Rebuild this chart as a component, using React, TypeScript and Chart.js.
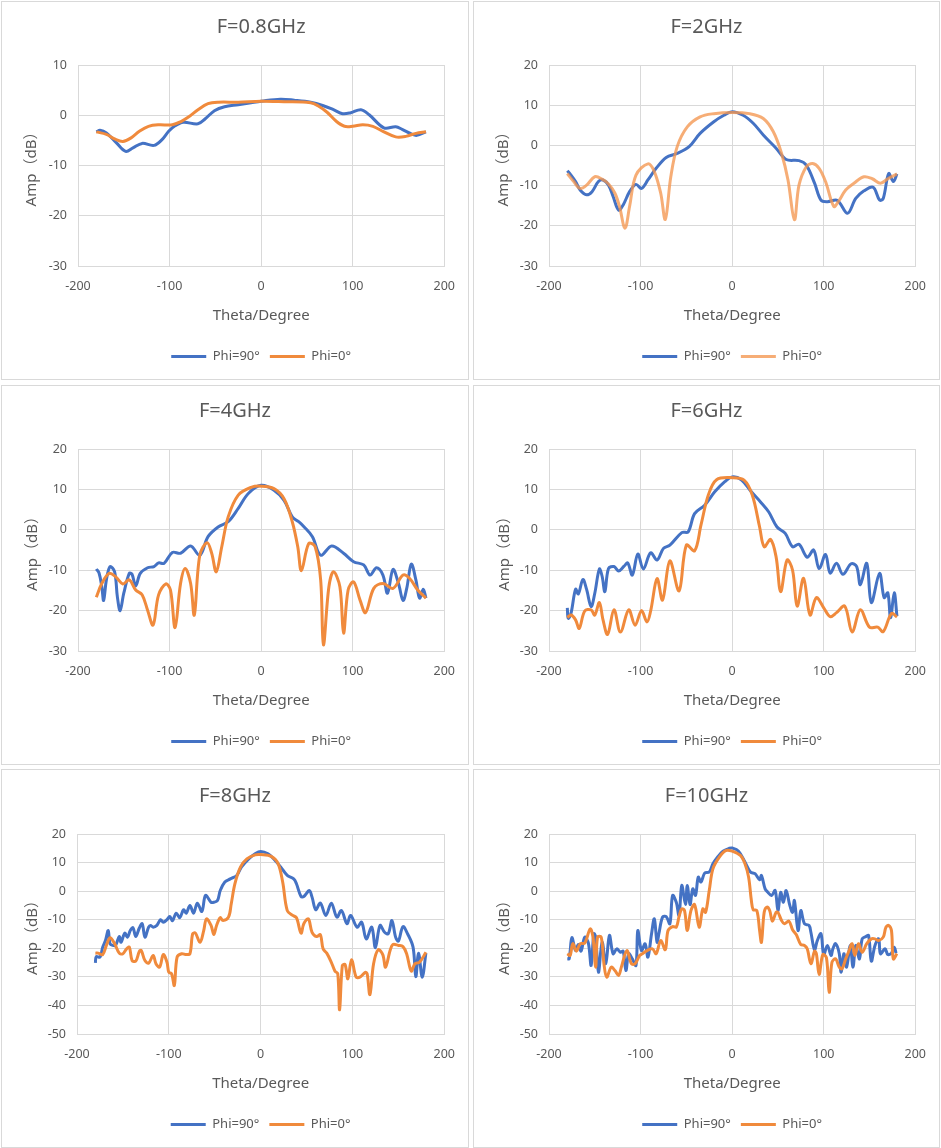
import React, { useEffect, useRef } from "react";
import { Chart, registerables } from "chart.js";

Chart.register(...registerables);

// ---------- text ----------
const TITLES = ["F=0.8GHz", "F=2GHz", "F=4GHz", "F=6GHz", "F=8GHz", "F=10GHz"];
const SERIES_LABELS = ["Phi=90°", "Phi=0°"];
const X_TITLE = "Theta/Degree";
const Y_TITLE = "Amp（dB）";

// ---------- axes ----------
const X_MIN = -200;
const X_MAX = 200;
const X_STEP = 100;
const Y_MIN = [-30, -30, -30, -30, -50, -50];
const Y_MAX = [10, 20, 20, 20, 20, 20];
const Y_STEP = 10;

// ---------- data: F = 0.8 GHz ----------
const P1_BLUE_THETA = [-180, -176, -169, -158, -148, -140, -130, -117, -108, -101, -94, -85, -69, -61, -51, -40, -25, -11, 0, 21, 36, 54, 68, 79, 89, 98, 109, 118, 134, 147, 154, 165, 170, 180];
const P1_BLUE_AMP = [-3.3, -3.0, -3.5, -5.5, -7.2, -6.5, -5.6, -6.0, -4.8, -3.2, -2.1, -1.4, -1.7, -0.7, 0.9, 1.7, 2.1, 2.5, 2.8, 3.2, 3.0, 2.6, 1.9, 1.1, 0.3, 0.5, 1.1, 0.1, -2.5, -2.3, -2.8, -3.8, -4.0, -3.3];
const P1_ORANGE_THETA = [-180, -169, -160, -151, -142, -133, -123, -112, -97, -88, -79, -69, -58, -47, -25, 0, 25, 54, 62, 72, 82, 91, 100, 111, 122, 133, 147, 158, 169, 180];
const P1_ORANGE_AMP = [-3.3, -3.8, -4.7, -5.2, -4.5, -3.2, -2.2, -1.9, -1.9, -1.3, -0.3, 1.1, 2.3, 2.6, 2.6, 2.8, 2.7, 2.5, 1.9, 0.6, -1.2, -2.2, -2.2, -1.9, -2.2, -3.2, -4.3, -4.2, -3.6, -3.3];

// ---------- data: F = 2 GHz ----------
const P2_BLUE_THETA = [-180, -177, -171, -166, -159, -153, -146, -141, -135, -130, -124, -119, -112, -105, -99, -92, -83, -72, -60, -47, -35, -20, -9, 0, 12, 23, 34, 48, 59, 73, 81, 90, 97, 104, 115, 126, 135, 144, 154, 161, 165, 171, 176, 180];
const P2_BLUE_AMP = [-6.3, -7.1, -9.0, -11.1, -12.3, -11.5, -9.0, -8.6, -9.9, -12.7, -16.1, -14.8, -11.5, -9.7, -10.7, -8.6, -5.7, -3.0, -2.0, -0.3, 3.0, 5.9, 7.5, 8.4, 7.5, 5.5, 2.6, -0.7, -3.5, -3.8, -4.9, -9.4, -13.6, -14.0, -13.7, -16.9, -13.2, -11.3, -10.4, -13.6, -13.2, -7.0, -9.0, -7.1];
const P2_ORANGE_THETA = [-180, -173, -166, -159, -150, -142, -135, -128, -123, -117, -112, -105, -92, -85, -78, -73, -67, -60, -49, -35, -20, 0, 19, 34, 45, 54, 61, 68, 73, 81, 88, 95, 102, 111, 116, 124, 133, 144, 153, 162, 170, 180];
const P2_ORANGE_AMP = [-7.0, -9.0, -10.7, -9.9, -7.8, -8.4, -9.6, -11.9, -15.2, -20.6, -15.2, -7.4, -4.6, -6.5, -11.9, -18.4, -7.8, -0.3, 4.6, 7.1, 7.9, 8.2, 7.9, 6.7, 3.4, -2.0, -8.6, -18.5, -9.9, -5.3, -4.5, -5.7, -9.0, -15.2, -14.0, -11.1, -9.4, -7.8, -8.3, -9.4, -8.3, -7.1];

// ---------- data: F = 4 GHz ----------
const P3_BLUE_THETA = [-180, -177, -174, -172, -169, -165, -160, -157, -154, -150, -144, -141, -137, -132, -124, -117, -112, -106, -97, -88, -77, -67, -58, -47, -36, -25, -14, 0, 14, 25, 34, 41, 47, 56, 65, 77, 90, 101, 112, 119, 126, 133, 138, 144, 150, 155, 159, 164, 169, 173, 177, 180];
const P3_BLUE_AMP = [-9.7, -10.7, -14.1, -17.5, -12.4, -9.1, -10.4, -16.6, -20.0, -15.7, -10.8, -11.0, -13.9, -10.8, -9.4, -9.1, -8.2, -8.3, -5.6, -5.8, -4.0, -6.3, -1.7, 0.7, 2.0, 5.3, 9.0, 11.0, 9.8, 7.3, 3.2, 2.0, 0.7, -1.7, -6.3, -4.0, -5.8, -7.9, -8.7, -11.2, -9.4, -11.2, -15.7, -9.8, -13.3, -17.5, -14.5, -8.5, -12.4, -16.9, -14.7, -16.9];
const P3_ORANGE_THETA = [-180, -174, -166, -159, -151, -144, -137, -130, -124, -118, -112, -104, -99, -94, -88, -83, -77, -73, -67, -59, -54, -49, -43, -36, -25, -11, 0, 14, 25, 34, 40, 44, 52, 59, 65, 68, 74, 79, 86, 90, 95, 101, 108, 114, 123, 133, 144, 155, 162, 171, 180];
const P3_ORANGE_AMP = [-16.7, -13.3, -10.8, -11.6, -13.4, -12.4, -14.9, -16.1, -19.9, -23.6, -16.1, -13.4, -14.9, -24.2, -13.3, -9.6, -13.3, -21.1, -6.3, -3.2, -5.8, -10.4, -4.2, 3.2, 8.6, 10.5, 10.8, 10.2, 7.7, 2.0, -4.2, -10.1, -3.4, -4.2, -12.4, -28.5, -14.1, -10.4, -14.1, -25.6, -14.9, -12.9, -17.4, -20.5, -14.5, -13.3, -14.5, -11.2, -12.0, -14.9, -16.9];

// ---------- data: F = 6 GHz ----------
const P4_BLUE_THETA = [-180, -179, -176, -171, -168, -163, -159, -154, -150, -145, -142, -139, -135, -129, -124, -118, -114, -109, -103, -97, -89, -82, -75, -68, -55, -48, -41, -30, -19, -8, 0, 10, 21, 31, 40, 49, 58, 66, 73, 82, 89, 95, 102, 107, 114, 121, 130, 136, 140, 147, 152, 161, 166, 170, 173, 177, 180];
const P4_BLUE_AMP = [-19.3, -21.9, -20.7, -14.7, -15.9, -12.3, -14.7, -19.0, -15.7, -9.7, -11.5, -15.3, -9.6, -9.1, -10.2, -9.0, -8.2, -11.2, -6.0, -9.7, -5.7, -7.5, -4.6, -3.8, -0.7, -0.5, 4.0, 6.1, 9.4, 11.9, 13.1, 12.4, 9.4, 6.9, 4.4, 0.7, -0.9, -4.2, -3.6, -6.8, -5.0, -9.6, -6.1, -10.7, -8.3, -11.0, -8.4, -9.1, -13.6, -8.3, -18.0, -10.8, -16.8, -15.6, -21.8, -15.6, -21.4];
const P4_ORANGE_THETA = [-180, -176, -171, -167, -161, -154, -150, -145, -141, -136, -129, -122, -113, -106, -99, -93, -89, -82, -76, -68, -58, -50, -41, -34, -26, -17, 0, 13, 22, 30, 35, 42, 48, 53, 60, 66, 71, 78, 85, 92, 100, 107, 114, 123, 131, 140, 150, 159, 165, 174, 180];
const P4_ORANGE_AMP = [-21.7, -21.1, -22.3, -24.4, -20.1, -19.8, -21.1, -18.0, -22.3, -25.9, -19.8, -25.3, -19.8, -23.6, -20.0, -22.8, -20.1, -12.1, -17.4, -7.7, -15.1, -3.8, -5.2, 1.2, 8.6, 12.4, 12.9, 12.3, 8.6, 0.7, -4.2, -2.4, -6.7, -15.3, -7.5, -10.0, -18.9, -12.0, -21.1, -16.8, -19.3, -21.5, -20.5, -18.9, -25.3, -19.8, -24.1, -24.1, -25.2, -20.7, -21.6];

// ---------- data: F = 8 GHz ----------
const P5_BLUE_THETA = [-180, -179, -175, -172, -169, -166, -164, -161, -158, -154, -152, -148, -145, -142, -139, -136, -132, -129, -126, -122, -120, -117, -113, -109, -106, -102, -99, -96, -92, -88, -84, -81, -77, -73, -69, -64, -60, -54, -51, -47, -44, -39, -33, -26, -21, -13, -6, 0, 8, 15, 22, 29, 36, 39, 44, 47, 53, 56, 60, 65, 71, 77, 83, 88, 94, 98, 105, 110, 115, 121, 125, 130, 135, 139, 143, 147, 150, 155, 160, 166, 169, 172, 176, 180];
const P5_BLUE_AMP = [-25.1, -22.9, -23.1, -19.6, -17.3, -13.8, -18.4, -19.0, -19.0, -15.9, -17.9, -14.7, -16.1, -13.8, -12.8, -15.9, -12.8, -11.4, -16.1, -12.6, -12.0, -12.6, -12.0, -10.0, -10.9, -10.0, -8.9, -10.3, -7.7, -9.3, -6.5, -7.7, -5.0, -7.7, -4.2, -7.1, -1.5, -3.9, -3.9, -3.3, 0.2, 3.2, 4.3, 5.5, 8.4, 11.3, 13.1, 13.9, 13.1, 11.0, 8.4, 5.5, 4.3, 2.6, -1.9, -1.9, 0.2, -2.1, -6.5, -4.2, -8.5, -4.2, -9.1, -6.8, -11.4, -8.5, -12.6, -10.9, -16.7, -12.6, -19.8, -12.0, -14.4, -14.9, -10.3, -16.1, -17.5, -12.4, -14.9, -19.6, -29.9, -21.7, -30.1, -21.7];
const P5_ORANGE_THETA = [-180, -177, -172, -168, -164, -159, -154, -150, -146, -143, -140, -136, -132, -130, -126, -122, -117, -114, -110, -106, -102, -100, -97, -94, -91, -86, -81, -77, -74, -71, -66, -62, -59, -54, -51, -48, -44, -41, -35, -32, -28, -22, -15, -6, 0, 12, 19, 24, 29, 35, 39, 44, 47, 52, 56, 61, 65, 68, 72, 77, 81, 84, 86, 89, 92, 95, 99, 104, 108, 114, 116, 119, 123, 128, 133, 136, 141, 144, 150, 155, 159, 164, 168, 173, 180];
const P5_ORANGE_AMP = [-21.7, -21.7, -22.2, -19.0, -16.3, -18.4, -21.7, -21.9, -20.2, -19.6, -24.3, -24.5, -21.0, -20.8, -24.3, -25.2, -22.5, -25.4, -26.6, -22.2, -24.9, -28.4, -28.9, -33.0, -23.1, -21.9, -22.2, -21.9, -14.9, -14.7, -17.9, -13.8, -9.7, -12.0, -15.2, -12.0, -9.3, -10.3, -9.1, -4.4, 2.6, 8.4, 11.3, 12.7, 12.8, 12.1, 9.6, 3.2, -6.8, -8.5, -9.3, -14.7, -11.4, -9.7, -14.4, -15.9, -15.2, -20.2, -21.7, -24.9, -28.0, -28.9, -41.5, -26.0, -25.7, -30.7, -24.0, -30.1, -30.1, -28.4, -28.9, -36.2, -25.4, -20.5, -22.2, -26.6, -20.8, -18.7, -19.0, -19.4, -21.9, -28.0, -25.4, -24.9, -21.4];

// ---------- data: F = 10 GHz ----------
const P6_BLUE_THETA = [-180, -178, -175, -171, -168, -165, -161, -157, -154, -151, -149, -146, -142, -138, -134, -130, -126, -122, -119, -116, -113, -109, -105, -103, -99, -95, -92, -88, -85, -82, -80, -76, -72, -68, -65, -61, -58, -55, -51, -49, -46, -43, -40, -37, -34, -30, -25, -21, -16, -10, -3, 0, 7, 14, 20, 25, 30, 32, 36, 39, 43, 47, 50, 53, 56, 59, 63, 66, 68, 72, 75, 79, 84, 86, 90, 93, 97, 100, 104, 108, 110, 113, 117, 119, 122, 125, 129, 132, 135, 139, 142, 146, 149, 152, 156, 160, 162, 167, 170, 174, 177, 179];
const P6_BLUE_AMP = [-23.7, -23.7, -16.3, -20.8, -18.7, -21.0, -16.1, -18.2, -26.0, -14.9, -16.1, -28.4, -17.9, -25.4, -15.5, -21.9, -20.2, -21.4, -21.0, -27.8, -21.9, -23.7, -26.0, -13.8, -20.8, -18.4, -23.1, -14.9, -9.7, -17.9, -14.9, -9.1, -8.9, -11.4, -1.5, -3.9, -8.5, 2.0, -4.7, 2.0, -4.7, 0.8, -1.5, 4.9, 3.2, 6.3, 6.7, 9.6, 11.9, 14.0, 15.0, 15.1, 14.0, 10.2, 6.7, 6.1, 4.0, 5.5, 0.8, -0.4, -1.5, 0.2, -6.8, -0.4, -3.9, 0.2, -5.0, -7.4, -3.3, -13.8, -6.8, -11.4, -12.0, -14.4, -20.5, -17.3, -14.9, -22.2, -19.0, -22.5, -20.2, -18.4, -21.9, -28.4, -21.9, -26.6, -19.0, -26.6, -19.0, -23.7, -16.7, -15.9, -15.5, -24.5, -19.0, -16.7, -21.9, -20.2, -22.2, -21.7, -19.6, -21.7];
const P6_ORANGE_THETA = [-180, -177, -174, -170, -166, -161, -155, -152, -149, -147, -143, -140, -137, -132, -128, -124, -121, -115, -110, -106, -101, -98, -93, -87, -83, -78, -73, -70, -65, -61, -58, -55, -52, -49, -45, -41, -36, -32, -29, -25, -21, -14, -7, 0, 9, 14, 18, 21, 23, 27, 30, 32, 35, 38, 41, 44, 48, 50, 54, 57, 62, 66, 70, 75, 79, 82, 86, 90, 92, 95, 99, 103, 106, 109, 113, 117, 120, 124, 127, 131, 134, 138, 142, 147, 152, 156, 160, 165, 168, 171, 174, 176, 180];
const P6_ORANGE_AMP = [-21.9, -22.5, -18.4, -21.0, -18.4, -18.2, -13.2, -16.1, -26.6, -16.1, -16.1, -25.4, -30.1, -26.6, -27.8, -29.5, -26.6, -20.8, -25.4, -25.4, -22.5, -21.9, -20.8, -20.2, -21.9, -17.3, -20.5, -13.8, -12.4, -12.6, -8.9, -6.2, -6.8, -13.8, -6.8, -4.7, -12.6, -6.2, -7.4, 0.2, 7.8, 11.9, 14.2, 14.0, 12.5, 9.6, 4.9, -3.3, -6.5, -6.8, -13.8, -17.9, -7.4, -5.6, -6.8, -10.5, -7.4, -7.4, -10.3, -11.4, -10.5, -13.5, -15.2, -18.7, -19.0, -20.2, -25.4, -21.0, -21.9, -29.2, -22.2, -23.3, -35.4, -24.9, -23.7, -26.6, -27.2, -23.7, -21.4, -18.4, -22.5, -18.4, -21.4, -18.4, -16.7, -16.7, -17.3, -16.1, -12.6, -12.0, -13.8, -23.7, -21.9];

// ---------- styles ----------
const FONT = '"Noto Sans", "Noto Sans CJK SC", sans-serif';
const TEXT_COLOR = "#595959";
const GRID_COLOR = "#D9D9D9";
const BLUE = "#4472C4";
const ORANGE = "#F08A3C";
const ORANGE_LIGHT = "rgba(244, 150, 80, 0.78)";

type PanelDef = {
  left: number; top: number; w: number; h: number;
  areaL: number; areaR: number; areaT: number; titleTop: number; titleFull: boolean;
  blue: [number[], number[]]; orange: [number[], number[]]; orangeColor: string;
};

const PANELS: PanelDef[] = [
  { left: 1, top: 1, w: 468, h: 379, areaL: 76, areaR: 447, areaT: 63, titleTop: 13, titleFull: false, blue: [P1_BLUE_THETA, P1_BLUE_AMP], orange: [P1_ORANGE_THETA, P1_ORANGE_AMP], orangeColor: ORANGE },
  { left: 473, top: 1, w: 467, h: 379, areaL: 75, areaR: 446, areaT: 63, titleTop: 13, titleFull: true, blue: [P2_BLUE_THETA, P2_BLUE_AMP], orange: [P2_ORANGE_THETA, P2_ORANGE_AMP], orangeColor: ORANGE_LIGHT },
  { left: 1, top: 385, w: 468, h: 380, areaL: 76, areaR: 446, areaT: 63, titleTop: 13, titleFull: true, blue: [P3_BLUE_THETA, P3_BLUE_AMP], orange: [P3_ORANGE_THETA, P3_ORANGE_AMP], orangeColor: ORANGE },
  { left: 473, top: 385, w: 467, h: 380, areaL: 75, areaR: 445, areaT: 63, titleTop: 13, titleFull: true, blue: [P4_BLUE_THETA, P4_BLUE_AMP], orange: [P4_ORANGE_THETA, P4_ORANGE_AMP], orangeColor: ORANGE },
  { left: 1, top: 769, w: 468, h: 379, areaL: 75, areaR: 446, areaT: 64, titleTop: 14, titleFull: true, blue: [P5_BLUE_THETA, P5_BLUE_AMP], orange: [P5_ORANGE_THETA, P5_ORANGE_AMP], orangeColor: ORANGE },
  { left: 473, top: 769, w: 467, h: 379, areaL: 75, areaR: 445, areaT: 64, titleTop: 14, titleFull: true, blue: [P6_BLUE_THETA, P6_BLUE_AMP], orange: [P6_ORANGE_THETA, P6_ORANGE_AMP], orangeColor: ORANGE },
];

const X_AXIS_HEIGHT = 74;
const BOTTOM_PAD = 6;
const LINE_WIDTH = 3;

function zip(theta: number[], amp: number[]) {
  const n = Math.min(theta.length, amp.length);
  const out: { x: number; y: number }[] = [];
  for (let i = 0; i < n; i++) out.push({ x: theta[i], y: amp[i] });
  return out;
}

function Panel({ idx }: { idx: number }) {
  const p = PANELS[idx];
  const cw = p.w - 2;
  const ch = p.h - 2;
  const ref = useRef<HTMLCanvasElement>(null);

  useEffect(() => {
    const canvas = ref.current;
    if (!canvas) return;
    const sidePad = cw - p.areaR;
    const chart = new Chart(canvas, {
      type: "line",
      data: {
        datasets: [
          {
            label: SERIES_LABELS[0],
            data: zip(p.blue[0], p.blue[1]),
            borderColor: BLUE,
            backgroundColor: BLUE,
            borderWidth: LINE_WIDTH,
            pointRadius: 0,
            pointHoverRadius: 0,
            tension: 0.35,
            fill: false,
            order: 1,
          },
          {
            label: SERIES_LABELS[1],
            data: zip(p.orange[0], p.orange[1]),
            borderColor: p.orangeColor,
            backgroundColor: p.orangeColor,
            borderWidth: LINE_WIDTH,
            pointRadius: 0,
            pointHoverRadius: 0,
            tension: 0.35,
            fill: false,
            order: 0,
          },
        ],
      },
      options: {
        responsive: false,
        animation: false,
        devicePixelRatio: 1,
        events: [],
        layout: { padding: { left: sidePad, right: sidePad, top: 0, bottom: BOTTOM_PAD } },
        plugins: {
          title: {
            display: true,
            text: TITLES[idx],
            color: TEXT_COLOR,
            fullSize: p.titleFull,
            font: { family: FONT, size: 20, weight: "normal", lineHeight: 1.2 },
            padding: { top: p.titleTop, bottom: p.areaT - p.titleTop - 24 },
          },
          legend: {
            display: true,
            position: "bottom",
            fullSize: false,
            labels: {
              usePointStyle: true,
              pointStyle: "line",
              pointStyleWidth: 35,
              color: TEXT_COLOR,
              font: { family: FONT, size: 13 },
              padding: 10,
              sort: (a: any, b: any) => a.datasetIndex - b.datasetIndex,
            },
          },
          tooltip: { enabled: false },
        },
        scales: {
          x: {
            type: "linear",
            min: X_MIN,
            max: X_MAX,
            ticks: { stepSize: X_STEP, padding: 13, color: TEXT_COLOR, font: { family: FONT, size: 12.5 } },
            grid: { color: GRID_COLOR, lineWidth: 1, drawTicks: false },
            border: { color: GRID_COLOR },
            title: {
              display: true,
              text: X_TITLE,
              color: TEXT_COLOR,
              font: { family: FONT, size: 15 },
              padding: { top: 0, bottom: 15 },
            },
            afterFit: (s: any) => { s.height = X_AXIS_HEIGHT; },
          },
          y: {
            type: "linear",
            min: Y_MIN[idx],
            max: Y_MAX[idx],
            ticks: { stepSize: Y_STEP, padding: 11, color: TEXT_COLOR, font: { family: FONT, size: 12.5 } },
            grid: { color: GRID_COLOR, lineWidth: 1, drawTicks: false },
            border: { color: GRID_COLOR },
            title: {
              display: true,
              text: Y_TITLE,
              color: TEXT_COLOR,
              font: { family: FONT, size: 15 },
              padding: { top: 2, bottom: 0 },
            },
            afterFit: (s: any) => { s.width = p.areaL - sidePad; },
          },
        },
      },
    } as any);
    return () => chart.destroy();
  }, [idx]);

  return (
    <div
      style={{
        position: "absolute",
        left: p.left,
        top: p.top,
        width: p.w,
        height: p.h,
        border: "1px solid #D9D9D9",
        boxSizing: "border-box",
        background: "#fff",
      }}
    >
      <canvas ref={ref} width={cw} height={ch} style={{ display: "block", width: cw, height: ch }} />
    </div>
  );
}

export default function App() {
  return (
    <div style={{ position: "absolute", left: 0, top: 0, width: 941, height: 1148, background: "#fff", overflow: "hidden" }}>
      {PANELS.map((_, i) => (
        <Panel key={i} idx={i} />
      ))}
    </div>
  );
}
